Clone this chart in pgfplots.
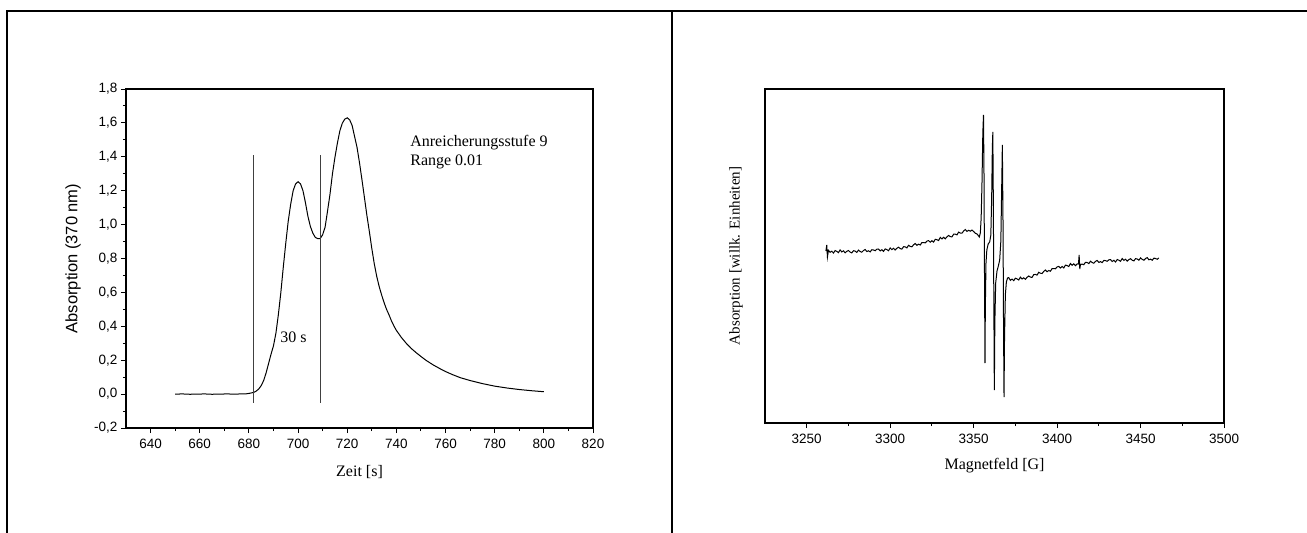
\documentclass[border=0pt]{standalone}
\usepackage{fontspec}
\setmainfont{Liberation Serif}
\setsansfont{Liberation Sans}
\usepackage{pgfplots}
\pgfplotsset{compat=1.18}
\begin{document}
\begin{tikzpicture}
\path[use as bounding box] (0bp,0bp) rectangle (1307bp,-533bp);
\draw[line width=2bp] (7.3bp,-533bp) -- (7.3bp,-10.7bp) -- (1307bp,-10.7bp);
\draw[line width=2bp] (672.3bp,-10.7bp) -- (672.3bp,-533bp);

% ---------- left chart ----------
\begin{axis}[
  at={(126bp,-428bp)}, anchor=south west,
  scale only axis, width=467bp, height=339bp,
  xmin=630, xmax=820, ymin=-0.2, ymax=1.8,
  xtick={640,660,680,700,720,740,760,780,800,820},
  ytick={-0.2,0,0.2,0.4,0.6,0.8,1,1.2,1.4,1.6,1.8},
  minor x tick num=1, minor y tick num=1,
  tick align=outside, tick pos=left,
  major tick length=5bp, minor tick length=3bp,
  axis line style={line width=1.2bp},
  every tick/.style={line width=1bp, black},
  /pgf/number format/assume math mode=true,
  ticklabel style={font=\fontsize{13.5bp}{16bp}\selectfont\sffamily},
  yticklabel style={/pgf/number format/.cd, use comma, fixed, fixed zerofill, precision=1},
  xticklabel style={yshift=-3bp, /pgf/number format/.cd, fixed, precision=0},
  every axis x label/.style={at={(axis description cs:0.5,-0.1298)}, anchor=center, font=\fontsize{16bp}{18bp}\selectfont\rmfamily},
  every axis y label/.style={at={(axis description cs:-0.1135,0.5)}, rotate=90, anchor=center, font=\fontsize{16.5bp}{18bp}\selectfont\sffamily},
  xlabel={Zeit [s]},
  ylabel={Absorption (370 nm)},
]
\addplot[black, line width=1bp] coordinates {
(650,0.000) (653,0.001) (656,-0.001) (659,0.000) (662,0.001) (665,-0.001) (668,0.000) (671,0.001) (674,0.000) (677,0.001) (679,0.002) (680,0.004) (681,0.007) (682,0.010) (683,0.018) (684,0.030) (685,0.050) (686,0.080) (687,0.125) (688,0.180) (689,0.235) (690,0.285) (691,0.360) (692,0.470) (693,0.600) (694,0.750) (695,0.890) (696,1.020) (697,1.120) (698,1.200) (699,1.240) (700,1.253) (701,1.240) (702,1.200) (703,1.130) (704,1.050) (705,0.990) (706,0.950) (707,0.925) (708,0.917) (709,0.918) (710,0.940) (711,0.985) (712,1.080) (713,1.180) (714,1.300) (715,1.396) (716,1.480) (717,1.553) (718,1.598) (719,1.622) (720,1.630) (721,1.618) (722,1.585) (723,1.520) (724,1.455) (725,1.365) (726,1.265) (727,1.160) (728,1.055) (729,0.960) (730,0.860) (731,0.770) (732,0.695) (733,0.635) (734,0.585) (735,0.540) (736,0.500) (737,0.468) (738,0.432) (739,0.402) (740,0.376) (742,0.335) (744,0.300) (746,0.270) (748,0.245) (750,0.222) (752,0.200) (755,0.172) (758,0.148) (760,0.133) (763,0.114) (766,0.097) (770,0.080) (775,0.062) (780,0.047) (785,0.036) (790,0.027) (795,0.020) (800,0.014)
};
\addplot[black!75, line width=1bp] coordinates {(682,-0.05) (682,1.41)};
\addplot[black!75, line width=1bp] coordinates {(709,-0.05) (709,1.41)};
\node[anchor=base west, inner sep=0pt, font=\fontsize{16bp}{18bp}\selectfont\rmfamily] at (axis cs:745.6,1.46) {Anreicherungsstufe 9};
\node[anchor=base west, inner sep=0pt, font=\fontsize{16bp}{18bp}\selectfont\rmfamily] at (axis cs:745.6,1.347) {Range 0.01};
\node[anchor=base west, inner sep=0pt, font=\fontsize{16bp}{18bp}\selectfont\rmfamily] at (axis cs:692.7,0.304) {30 s};
\end{axis}

% ---------- right chart ----------
\begin{axis}[
  at={(765bp,-423bp)}, anchor=south west,
  scale only axis, width=459bp, height=334bp,
  xmin=3225, xmax=3500, ymin=0, ymax=334,
  xtick={3250,3300,3350,3400,3450,3500},
  minor x tick num=1,
  ytick=\empty,
  tick align=outside, tick pos=left,
  major tick length=5bp, minor tick length=3bp,
  axis line style={line width=1.2bp},
  every tick/.style={line width=1bp, black},
  /pgf/number format/assume math mode=true,
  ticklabel style={font=\fontsize{13.5bp}{16bp}\selectfont\sffamily},
  xticklabel style={yshift=-3bp, /pgf/number format/.cd, fixed, precision=0, set thousands separator={}},
  every axis x label/.style={at={(axis description cs:0.5,-0.1287)}, anchor=center, font=\fontsize{16bp}{18bp}\selectfont\rmfamily},
  every axis y label/.style={at={(axis description cs:-0.0632,0.5)}, rotate=90, anchor=center, font=\fontsize{15bp}{17bp}\selectfont\rmfamily},
  xlabel={Magnetfeld [G]},
  ylabel={Absorption [willk. Einheiten]},
]
\addplot[black, line width=1bp] coordinates {
(3261.5,172) (3262.0,178) (3262.4,166)
(3263,172.7) (3264,170.7) (3265,171.8) (3266,170.0) (3267,172.4) (3268,171.6) (3269,170.4) (3270,173.1) (3271,171.1) (3272,172.2) (3273,170.2) (3274,171.7) (3275,172.5) (3276,170.9) (3277,170.1) (3278,172.3) (3279,171.9) (3280,170.6)
(3281,172.9) (3282,171.5) (3283,170.8) (3284,172.5) (3285,173.5) (3286,171.4) (3287,172.2) (3288,171.1) (3289,173.3) (3290,173.0)
(3291,172.3) (3292,173.8) (3293,174.0) (3294,172.1) (3295,173.3) (3296,171.6) (3297,174.1) (3298,173.4) (3299,172.3) (3300,175.1)
(3301,173.4) (3302,174.7) (3303,173.0) (3304,174.7) (3305,175.8) (3306,174.4) (3307,173.9) (3308,176.3) (3309,176.2) (3310,175.1)
(3311,177.7) (3312,176.6) (3313,176.2) (3314,178.2) (3315,179.5) (3316,177.7) (3317,178.8) (3318,178.0) (3319,180.5) (3320,180.5)
(3321,180.1) (3322,181.9) (3323,182.4) (3324,180.8) (3325,182.3) (3326,180.9) (3327,183.7) (3328,183.3) (3329,182.5) (3330,185.6)
(3331,184.1) (3332,185.7) (3333,184.2) (3334,186.2) (3335,187.5) (3336,186.4) (3337,186.1) (3338,188.8) (3339,188.9) (3340,188.1)
(3341,190.9) (3342,190.0) (3343,189.8) (3344,192.0) (3345,193.5) (3346,191.6) (3347,192.7) (3348,191.8) (3349,192.9) (3350,191.5)
(3351,189.7) (3352,189.1)
(3353.4,186) (3354.0,190) (3354.5,205) (3355.0,240) (3355.5,290) (3355.9,308) (3356.2,250) (3356.5,150) (3356.8,60) (3357.0,115) (3357.4,160) (3357.9,173) (3358.7,179) (3359.6,181) (3360.3,188) (3360.8,225) (3361.2,275) (3361.5,291) (3361.8,220) (3362.1,120) (3362.4,33) (3362.7,100) (3363.2,140) (3364.0,152) (3364.8,157) (3365.6,163) (3366.3,182) (3366.8,235) (3367.2,278) (3367.6,200) (3367.9,100) (3368.2,26) (3368.5,85) (3369.0,128) (3369.6,141) (3370.3,145)
(3371,145.4) (3372,142.7) (3373,143.9) (3374,142.3) (3375,144.8) (3376,144.1) (3377,143.0) (3378,145.9) (3379,144.0) (3380,145.2)
(3381,143.7) (3382,145.7) (3383,147.0) (3384,145.9) (3385,145.6) (3386,148.4) (3387,148.6) (3388,147.9) (3389,150.7) (3390,149.8)
(3391,149.5) (3392,151.6) (3393,153.0) (3394,151.3) (3395,152.5) (3396,151.8) (3397,154.4) (3398,154.5) (3399,154.2) (3400,156.1)
(3401,156.6) (3402,155.0) (3403,156.5) (3404,155.1) (3405,157.9) (3406,157.4) (3407,156.5) (3408,159.5) (3409,157.8) (3410,159.2)
(3411,157.4) (3412,159.1) (3412.8,159) (3413.2,168) (3413.6,154) (3414,158.5) (3415,158.9) (3416,158.3) (3417,160.7) (3418,160.5) (3419,159.4) (3420,161.8)
(3421,160.5) (3422,159.8) (3423,161.6) (3424,162.6) (3425,160.6) (3426,161.4) (3427,160.4) (3428,162.6) (3429,162.4) (3430,161.7)
(3431,163.2) (3432,163.4) (3433,161.5) (3434,162.7) (3435,161.0) (3436,163.5) (3437,162.8) (3438,161.7) (3439,164.5) (3440,162.6)
(3441,163.8) (3442,161.9) (3443,163.4) (3444,164.3) (3445,162.8) (3446,162.1) (3447,164.4) (3448,164.0) (3449,162.8) (3450,165.1)
(3451,163.6) (3452,162.8) (3453,164.5) (3454,165.4) (3455,163.2) (3456,163.9) (3457,162.7) (3458,164.9) (3459,164.5) (3460,163.7) (3461,165.1)
};
\end{axis}
\end{tikzpicture}
\end{document}
